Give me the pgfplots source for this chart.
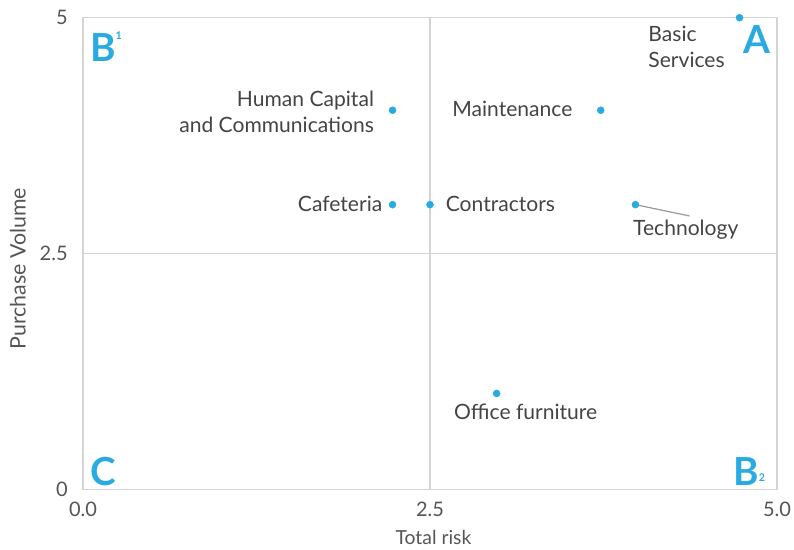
\documentclass[border=0pt]{standalone}
\usepackage{pgfplots}
\pgfplotsset{compat=1.18}
\usetikzlibrary{calc}
\usepackage{fontspec}
\setmainfont{Lato}
\definecolor{dotblue}{HTML}{29ABE2}
\definecolor{txt}{HTML}{444444}
\definecolor{tick}{HTML}{555555}
\definecolor{frame}{HTML}{D4D4D4}

\begin{document}
\begin{tikzpicture}
\begin{axis}[
    scale only axis,
    width=520.5pt,
    height=354pt,
    xmin=0, xmax=5,
    ymin=0, ymax=5,
    xtick={0,2.5,5},
    xticklabels={0.0,2.5,5.0},
    ytick={0,2.5,5},
    yticklabels={0,2.5,5},
    major tick length=0pt,
    tick label style={font=\fontsize{15}{17}\selectfont, text=tick},
    xticklabel style={yshift=-6pt},
    yticklabel style={xshift=-8pt},
    grid=major,
    grid style={frame, line width=1pt},
    axis line style={frame, line width=1pt},
    xlabel={Total risk},
    ylabel={Purchase Volume},
    xlabel style={font=\fontsize{14.5}{17}\selectfont, text=tick,
        at={(axis description cs:0.505,-0.102)}, anchor=center},
    ylabel style={font=\fontsize{16}{18}\selectfont, text=tick,
        at={(axis description cs:-0.094,0.468)}, anchor=center, rotate=0},
    clip=false,
]
\addplot[only marks, mark=*, mark size=2.6pt, color=dotblue] coordinates {
    (4.73,5) (3.73,4.02) (2.23,4.02) (2.23,3.02) (2.5,3.02) (3.98,3.02) (2.98,1.02)
};
\draw[gray!80, line width=0.9pt] (axis cs:3.98,3.02) -- (axis cs:4.37,2.9);

\begin{scope}[font=\fontsize{15.8}{19.5}\selectfont, text=txt]
\node[anchor=north west, align=left] at (axis cs:4.04,4.96) {Basic\\Services};
\node[anchor=east] at (axis cs:3.56,4.03) {Maintenance};
\node[anchor=east, align=right] at (axis cs:2.13,4.0) {Human Capital\\and Communications};
\node[anchor=east] at (axis cs:2.19,3.03) {Cafeteria};
\node[anchor=west] at (axis cs:2.58,3.03) {Contractors};
\node[anchor=west] at (axis cs:3.93,2.75) {Technology};
\node[anchor=west] at (axis cs:2.64,0.825) {Office furniture};
\end{scope}

\begin{scope}[font=\fontsize{29}{30}\bfseries\selectfont, text=dotblue, inner sep=0pt]
\node[anchor=north east] at (rel axis cs:0.991,0.985) {A};
\node[anchor=north west] at (rel axis cs:0.010,0.970) {B\raisebox{0.55em}{\fontsize{8}{8}\selectfont 1}};
\node[anchor=south west] at (rel axis cs:0.010,0.008) {C};
\node[anchor=south east] at (rel axis cs:0.983,0.008) {B\raisebox{0.1em}{\fontsize{8}{8}\selectfont 2}};
\end{scope}
\coordinate (bl) at (rel axis cs:0,0);
\coordinate (tr) at (rel axis cs:1,1);
\end{axis}
\pgfresetboundingbox
\path[use as bounding box] ($(bl)+(-62.25pt,-45pt)$) rectangle ($(tr)+(12.75pt,13.3pt)$);
\end{tikzpicture}
\end{document}
